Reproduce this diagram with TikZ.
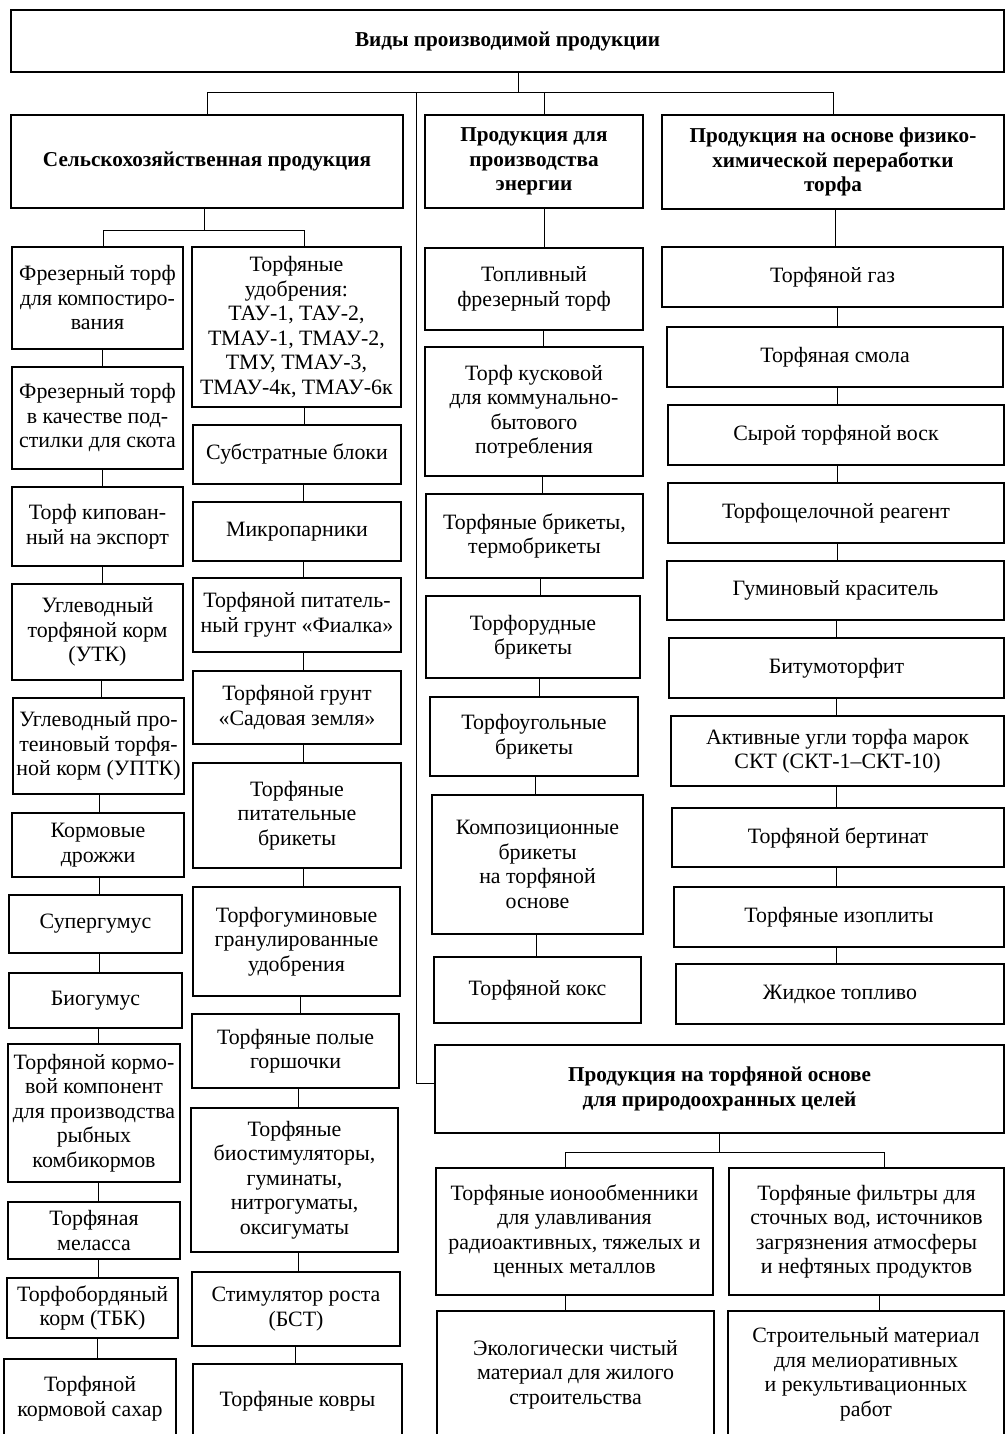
\documentclass[tikz,border=0pt]{standalone}
\usepackage{fontspec}
\setmainfont{Liberation Serif}
\tikzset{
  box/.style={draw, line width=1.7pt, inner sep=0pt, align=center, font=\fontsize{21.9}{24.5}\selectfont},
  hbox/.style={box, font=\fontsize{21.2}{24.5}\selectfont\bfseries},
  conn/.style={line width=1pt},
}
\newcommand\bx[7][box]{\node[#1, minimum width={(#5-#3)*1pt}, minimum height={(#6-#4)*1pt}] (#2) at ({(#3+#5)/2},{(#4+#6)/2}) {#7};}
\newcommand\cn[3]{\coordinate (cx) at (#3,0); \draw[conn] (#1.south -| cx) -- (#2.north -| cx);}
\begin{document}
\begin{tikzpicture}[x=1pt,y=-1pt]
\useasboundingbox (0,0) rectangle (1006,1434);
\fill[white] (0,0) rectangle (1006,1434);
\clip (0,0) rectangle (1006,1434);
% level 0 / 1
\bx[hbox]{top}{11}{10}{1004}{72}{Виды производимой продукции}
\bx[hbox]{agr}{11}{115}{403}{208}{Сельскохозяйственная продукция}
\bx[hbox]{ene}{425}{115}{643}{208}{Продукция для\\производства\\энергии}
\bx[hbox]{phy}{662}{115}{1004}{209}{Продукция на основе физико-\\химической переработки\\торфа}
% column 1
\bx{c1}{12}{247}{183}{349}{Фрезерный торф\\для компостиро-\\вания}
\bx{c2}{12}{367}{183}{469}{Фрезерный торф\\в качестве под-\\стилки для скота}
\bx{c3}{12}{487}{183}{566}{Торф кипован-\\ный на экспорт}
\bx{c4}{12}{584}{183}{680}{Углеводный\\торфяной корм\\(УТК)}
\bx{c5}{13}{698}{184}{794}{Углеводный про-\\теиновый торфя-\\ной корм (УПТК)}
\bx{c6}{12}{813}{184}{877}{Кормовые\\дрожжи}
\bx{c7}{9}{895}{182}{953}{Супергумус}
\bx{c8}{9}{973}{182}{1028}{Биогумус}
\bx{c9}{8}{1044}{180}{1182}{Торфяной кормо-\\вой компонент\\для производства\\рыбных\\комбикормов}
\bx{c10}{8}{1202}{180}{1259}{Торфяная\\меласса}
\bx{c11}{7}{1278}{178}{1338}{Торфобордяный\\корм (ТБК)}
\bx{c12}{4}{1359}{176}{1438}{Торфяной\\кормовой сахар}
% column 2
\bx{d1}{192}{247}{401}{407}{Торфяные\\удобрения:\\ТАУ-1, ТАУ-2,\\ТМАУ-1, ТМАУ-2,\\ТМУ, ТМАУ-3,\\ТМАУ-4к, ТМАУ-6к}
\bx{d2}{193}{425}{401}{484}{Субстратные блоки}
\bx{d3}{193}{502}{401}{561}{Микропарники}
\bx{d4}{193}{578}{401}{652}{Торфяной питатель-\\ный грунт «Фиалка»}
\bx{d5}{193}{671}{401}{744}{Торфяной грунт\\«Садовая земля»}
\bx{d6}{193}{763}{401}{868}{Торфяные\\питательные\\брикеты}
\bx{d7}{193}{887}{400}{996}{Торфогуминовые\\гранулированные\\удобрения}
\bx{d8}{192}{1014}{399}{1088}{Торфяные полые\\горшочки}
\bx{d9}{191}{1108}{398}{1252}{Торфяные\\биостимуляторы,\\гуминаты,\\нитрогуматы,\\оксигуматы}
\bx{d10}{192}{1272}{400}{1346}{Стимулятор роста\\(БСТ)}
\bx{d11}{193}{1364}{402}{1438}{Торфяные ковры}
% column 3
\bx{e1}{425}{248}{643}{330}{Топливный\\фрезерный торф}
\bx{e2}{425}{347}{643}{476}{Торф кусковой\\для коммунально-\\бытового\\потребления}
\bx{e3}{426}{494}{643}{578}{Торфяные брикеты,\\термобрикеты}
\bx{e4}{426}{596}{640}{678}{Торфорудные\\брикеты}
\bx{e5}{430}{697}{638}{776}{Торфоугольные\\брикеты}
\bx{e6}{432}{795}{643}{934}{Композиционные\\брикеты\\на торфяной\\основе}
\bx{e7}{434}{957}{641}{1023}{Торфяной кокс}
% column 4
\bx{f1}{662}{247}{1003}{307}{Торфяной газ}
\bx{f2}{667}{327}{1003}{387}{Торфяная смола}
\bx{f3}{668}{405}{1004}{465}{Сырой торфяной воск}
\bx{f4}{668}{483}{1004}{543}{Торфощелочной реагент}
\bx{f5}{667}{561}{1004}{620}{Гуминовый краситель}
\bx{f6}{669}{638}{1004}{698}{Битумоторфит}
\bx{f7}{671}{716}{1004}{786}{Активные угли торфа марок\\СКТ (СКТ-1–СКТ-10)}
\bx{f8}{672}{808}{1004}{867}{Торфяной бертинат}
\bx{f9}{674}{887}{1004}{947}{Торфяные изоплиты}
\bx{f10}{676}{964}{1004}{1024}{Жидкое топливо}
% environmental
\bx[hbox]{env}{435}{1045}{1004}{1133}{Продукция на торфяной основе\\для природоохранных целей}
\bx{g1}{436}{1168}{713}{1295}{Торфяные ионообменники\\для улавливания\\радиоактивных, тяжелых и\\ценных металлов}
\bx{g2}{729}{1168}{1004}{1295}{Торфяные фильтры для\\сточных вод, источников\\загрязнения атмосферы\\и нефтяных продуктов}
\bx{h1}{437}{1311}{714}{1438}{Экологически чистый\\материал для жилого\\строительства}
\bx{h2}{728}{1311}{1004}{1438}{Строительный материал\\для мелиоративных\\и рекультивационных\\работ}
% top bus
\coordinate (tj) at (518,93);
\coordinate (lv) at (416,93);
\coordinate (lvb) at (416,1083);
\coordinate (ej) at (544,93);
\draw[conn] (top.south -| tj) -- (tj);
\draw[conn] (agr.north) -- (agr.north |- tj) -- (phy.north |- tj) -- (phy.north);
\draw[conn] (ej) -- (ene.north -| ej);
\draw[conn] (lv) -- (lvb) -- (lvb -| env.west);
% agr sub-bus
\coordinate (sj) at (204,230);
\coordinate (s1) at (103,230);
\coordinate (s2) at (304,230);
\draw[conn] (agr.south -| sj) -- (sj);
\draw[conn] (s1) -- (s2);
\draw[conn] (s1) -- (c1.north -| s1);
\draw[conn] (s2) -- (d1.north -| s2);
% column 1 connectors
\cn{c1}{c2}{102}\cn{c2}{c3}{102}\cn{c3}{c4}{102}\cn{c4}{c5}{101}
\cn{c5}{c6}{99}\cn{c6}{c7}{99}\cn{c7}{c8}{99}\cn{c8}{c9}{98}
\cn{c9}{c10}{98}\cn{c10}{c11}{98}\cn{c11}{c12}{97}
% column 2 connectors
\cn{d1}{d2}{304}\cn{d2}{d3}{303}\cn{d3}{d4}{303}\cn{d4}{d5}{303}
\cn{d5}{d6}{303}\cn{d6}{d7}{303}\cn{d7}{d8}{300}\cn{d8}{d9}{298}
\cn{d9}{d10}{298}\cn{d10}{d11}{295}
% column 3 connectors
\cn{ene}{e1}{544}\cn{e1}{e2}{543}\cn{e2}{e3}{542}\cn{e3}{e4}{540}
\cn{e4}{e5}{539}\cn{e5}{e6}{535}\cn{e6}{e7}{536}
% column 4 connectors
\cn{phy}{f1}{835}\cn{f1}{f2}{837}\cn{f2}{f3}{837}\cn{f3}{f4}{837}
\cn{f4}{f5}{837}\cn{f5}{f6}{836}\cn{f6}{f7}{836}\cn{f7}{f8}{836}
\cn{f8}{f9}{836}\cn{f9}{f10}{836}
% env sub-bus
\coordinate (vj) at (719,1152);
\coordinate (v1) at (565,1152);
\coordinate (v2) at (884,1152);
\draw[conn] (env.south -| vj) -- (vj);
\draw[conn] (v1) -- (v2);
\draw[conn] (v1) -- (g1.north -| v1);
\draw[conn] (v2) -- (g2.north -| v2);
\cn{g1}{h1}{565}\cn{g2}{h2}{879}
\end{tikzpicture}
\end{document}
